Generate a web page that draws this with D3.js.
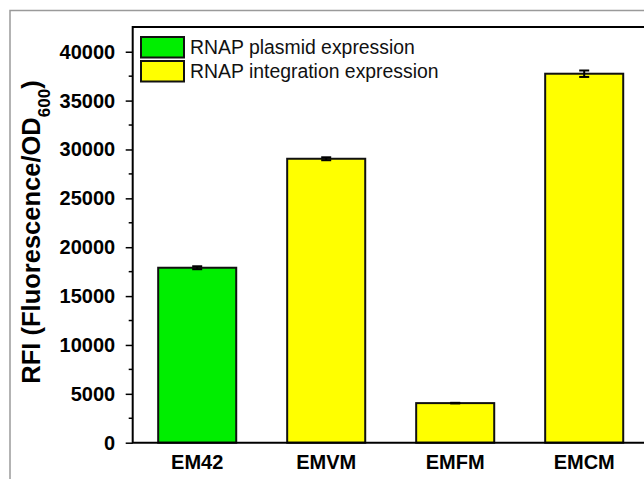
<!DOCTYPE html>
<html>
<head>
<meta charset="utf-8">
<script src="https://cdn.jsdelivr.net/npm/d3@7"></script>
<style>
  body { margin: 0; background: #fff; }
  svg { display: block; font-family: "Liberation Sans", Arial, sans-serif; }
</style>
</head>
<body>
<svg id="chart" width="644" height="479"></svg>
<script>
// bar chart: RNAP expression
var strains = ["EM42", "EMVM", "EMFM", "EMCM"]
var rfi = [17900, 29050, 4050, 37750]
var rfiErr = [150, 150, 30, 330]
var groups = ["plasmid", "integration", "integration", "integration"]
var legendLabels = ["RNAP plasmid expression", "RNAP integration expression"]
var groupColors = {plasmid: "#00ee00", integration: "#ffff00"}
var yTicks = [0, 5000, 10000, 15000, 20000, 25000, 30000, 35000, 40000]

var dimensions = {
    width: 644,
    height: 479,
    margin: {top: 27, bottom: 36.3, left: 132.7, right: -4.7}
}

var svg = d3.select("#chart")

var xScale = d3.scaleBand()
    .domain(strains)
    .range([dimensions.margin.left, dimensions.width - dimensions.margin.right])
    .paddingInner(0.395)
    .paddingOuter(0.1975)

var yScale = d3.scaleLinear()
    .domain([0, 42530])
    .range([dimensions.height - dimensions.margin.bottom, dimensions.margin.top])

var x0 = dimensions.margin.left
var x1 = dimensions.width - dimensions.margin.right
var yBase = yScale(0)
var yTop = yScale.range()[1]

// outer gray frame
svg.append("path")
    .attr("d", `M10,479 L10,10.5 L644,10.5`)
    .attr("fill", "none")
    .attr("stroke", "#9a9a9a")
    .attr("stroke-width", 1.5)

// bars
var data = strains.map((s, i) => ({name: s, v: rfi[i], e: rfiErr[i], g: groups[i]}))

svg.selectAll("rect.bar")
    .data(data)
    .enter()
    .append("rect")
    .attr("class", "bar")
    .attr("x", d => xScale(d.name))
    .attr("width", xScale.bandwidth())
    .attr("y", d => yScale(d.v))
    .attr("height", d => yBase - yScale(d.v))
    .attr("fill", d => groupColors[d.g])
    .attr("stroke", "#111")
    .attr("stroke-width", 2)

// error bars
var eb = svg.selectAll("g.err")
    .data(data)
    .enter()
    .append("g")
    .attr("class", "err")
    .attr("stroke", "#000")
    .attr("stroke-width", 2)

eb.append("line")
    .attr("x1", d => xScale(d.name) + xScale.bandwidth() / 2)
    .attr("x2", d => xScale(d.name) + xScale.bandwidth() / 2)
    .attr("y1", d => yScale(d.v + d.e))
    .attr("y2", d => yScale(d.v - d.e))
eb.selectAll("line.cap")
    .data(d => [d.v + d.e, d.v - d.e].map(v => ({name: d.name, v: v})))
    .enter()
    .append("line")
    .attr("class", "cap")
    .attr("x1", d => xScale(d.name) + xScale.bandwidth() / 2 - 5)
    .attr("x2", d => xScale(d.name) + xScale.bandwidth() / 2 + 5)
    .attr("y1", d => yScale(d.v))
    .attr("y2", d => yScale(d.v))

// y axis
var yAxis = svg.append("g")
    .attr("transform", `translate(${x0},0)`)
    .call(d3.axisLeft(yScale).tickValues(yTicks).tickSize(7).tickPadding(10.5).tickFormat(d3.format("d")))
yAxis.select(".domain").remove()
yAxis.selectAll(".tick line").attr("stroke", "#000").attr("stroke-width", 1.5)
yAxis.selectAll("text")
    .attr("fill", "#000")
    .style("font-size", "20px")
    .style("font-weight", "bold")

// minor ticks
svg.append("g")
    .selectAll("line")
    .data(d3.range(2500, 42500, 5000))
    .enter()
    .append("line")
    .attr("x1", x0 - 4)
    .attr("x2", x0)
    .attr("y1", d => yScale(d))
    .attr("y2", d => yScale(d))
    .attr("stroke", "#000")
    .attr("stroke-width", 1.5)

// x axis labels
var xAxis = svg.append("g")
    .attr("transform", `translate(0,${yBase})`)
    .call(d3.axisBottom(xScale).tickSize(0).tickPadding(12))
xAxis.select(".domain").remove()
xAxis.selectAll("text")
    .attr("fill", "#000")
    .style("font-size", "20px")
    .style("font-weight", "bold")

// plot box lines (left, bottom, top)
svg.append("path")
    .attr("d", `M${x1},${yTop} L${x0},${yTop} L${x0},${yBase} L${x1},${yBase}`)
    .attr("fill", "none")
    .attr("stroke", "#000")
    .attr("stroke-width", 2)

// y title
var yTitle = svg.append("text")
    .attr("transform", `translate(40,232) rotate(-90)`)
    .attr("text-anchor", "middle")
    .style("font-size", "25.5px")
    .style("font-weight", "bold")
    .attr("fill", "#000")
yTitle.append("tspan").text("RFI (Fluorescence/OD")
yTitle.append("tspan").attr("baseline-shift", "sub").style("font-size", "17px").text("600")
yTitle.append("tspan").text(")")

// legend
var legend = svg.append("g")
    .selectAll("g")
    .data(legendLabels)
    .enter()
    .append("g")
    .attr("transform", (d, i) => `translate(141,${37 + i * 24})`)
legend.append("rect")
    .attr("width", 43)
    .attr("height", 20.5)
    .attr("fill", (d, i) => i === 0 ? groupColors.plasmid : groupColors.integration)
    .attr("stroke", "#111")
    .attr("stroke-width", 2)
legend.append("text")
    .attr("x", 49)
    .attr("y", 17.3)
    .style("font-size", "19.4px")
    .attr("fill", "#111")
    .text(d => d)
</script>
</body>
</html>
